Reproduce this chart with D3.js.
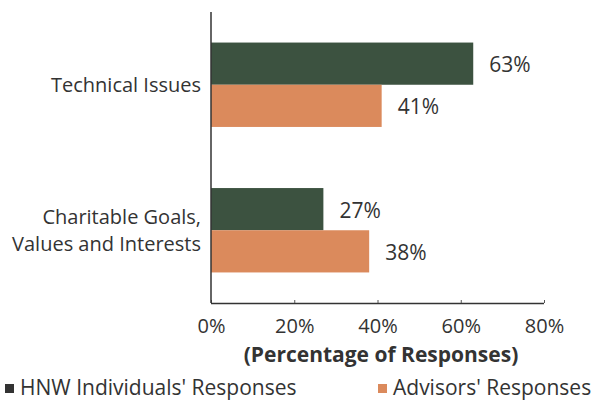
<!DOCTYPE html>
<html><head><meta charset="utf-8">
<script src="https://cdn.jsdelivr.net/npm/d3@7/dist/d3.min.js"></script>
<style>
body{margin:0;background:#fff;}
svg{display:block;font-family:"Open Sans",sans-serif;}
</style></head>
<body><svg id="chart" width="592" height="406"></svg>
<script>
const categories = ["Technical Issues", "Charitable Goals,|Values and Interests"];
const seriesNames = ["HNW Individuals' Responses", "Advisors' Responses"];
const hnwValues = [63, 27];
const advisorValues = [41, 38];
const xTicks = [0, 20, 40, 60, 80];
const colors = ["#3c5240", "#db8a5c"];

const svg = d3.select("#chart");
const x = d3.scaleLinear().domain([0, 80]).range([211, 544]);
const y = d3.scaleBand().domain(categories).range([12, 303]).paddingInner(0.42).paddingOuter(0.21);
const sub = d3.scaleBand().domain([0, 1]).range([0, y.bandwidth()]).padding(0);

const data = categories.map((c, i) => ({cat: c, vals: [hnwValues[i], advisorValues[i]]}));
const g = svg.append("g");
data.forEach(d => {
  d.vals.forEach((v, j) => {
    g.append("rect")
      .attr("x", x(0)).attr("y", y(d.cat) + sub(j))
      .attr("width", x(v) - x(0)).attr("height", sub.bandwidth())
      .attr("fill", colors[j]);
    g.append("text")
      .attr("x", x(v) + 16).attr("y", y(d.cat) + sub(j) + sub.bandwidth() / 2 + 3)
      .attr("dominant-baseline", "middle")
      .attr("font-size", 21).attr("fill", "#333")
      .text(v + "%");
  });
});

// x axis
const xAxis = d3.axisBottom(x).tickValues(xTicks).tickFormat(d => d + "%").tickSize(4).tickSizeOuter(0);
const xg = svg.append("g").attr("transform", "translate(0,303)").call(xAxis);
xg.select(".domain").attr("stroke", "#333").attr("stroke-width", 1.5).attr("d", `M${x(0)},0.5H${x(80)}`);
xg.selectAll(".tick line").attr("stroke", "#555").attr("y1", -3).attr("y2", 0);
xg.selectAll(".tick text").attr("font-size", 20).attr("fill", "#333").attr("font-family", "Open Sans, sans-serif").attr("dy", "1.15em");

// y axis
const yAxis = d3.axisLeft(y).tickSize(0).tickFormat("");
const yg = svg.append("g").attr("transform", `translate(${x(0)},0)`).call(yAxis);
yg.select(".domain").attr("stroke", "#333").attr("stroke-width", 1.5).attr("d", "M0,12V303");

categories.forEach(c => {
  const lines = c.split("|");
  const cy = y(c) + y.bandwidth() / 2;
  const lh = 27;
  lines.forEach((ln, k) => {
    svg.append("text")
      .attr("x", 201).attr("y", cy + (k - (lines.length - 1) / 2) * lh + 2)
      .attr("text-anchor", "end").attr("dominant-baseline", "middle")
      .attr("font-size", 20).attr("fill", "#333").text(ln);
  });
});

svg.append("text").attr("x", 381).attr("y", 356)
  .attr("text-anchor", "middle").attr("dominant-baseline", "middle")
  .attr("font-size", 21).attr("font-weight", "bold").attr("fill", "#333")
  .text("(Percentage of Responses)");

// legend
const legendX = [5, 378];
seriesNames.forEach((n, i) => {
  svg.append("rect").attr("x", legendX[i]).attr("y", 384).attr("width", 9).attr("height", 9).attr("fill", i === 0 ? "#333" : colors[1]);
  svg.append("text").attr("x", legendX[i] + 15).attr("y", 389)
    .attr("dominant-baseline", "middle").attr("font-size", 21).attr("fill", "#333").text(n);
});
</script></body></html>
